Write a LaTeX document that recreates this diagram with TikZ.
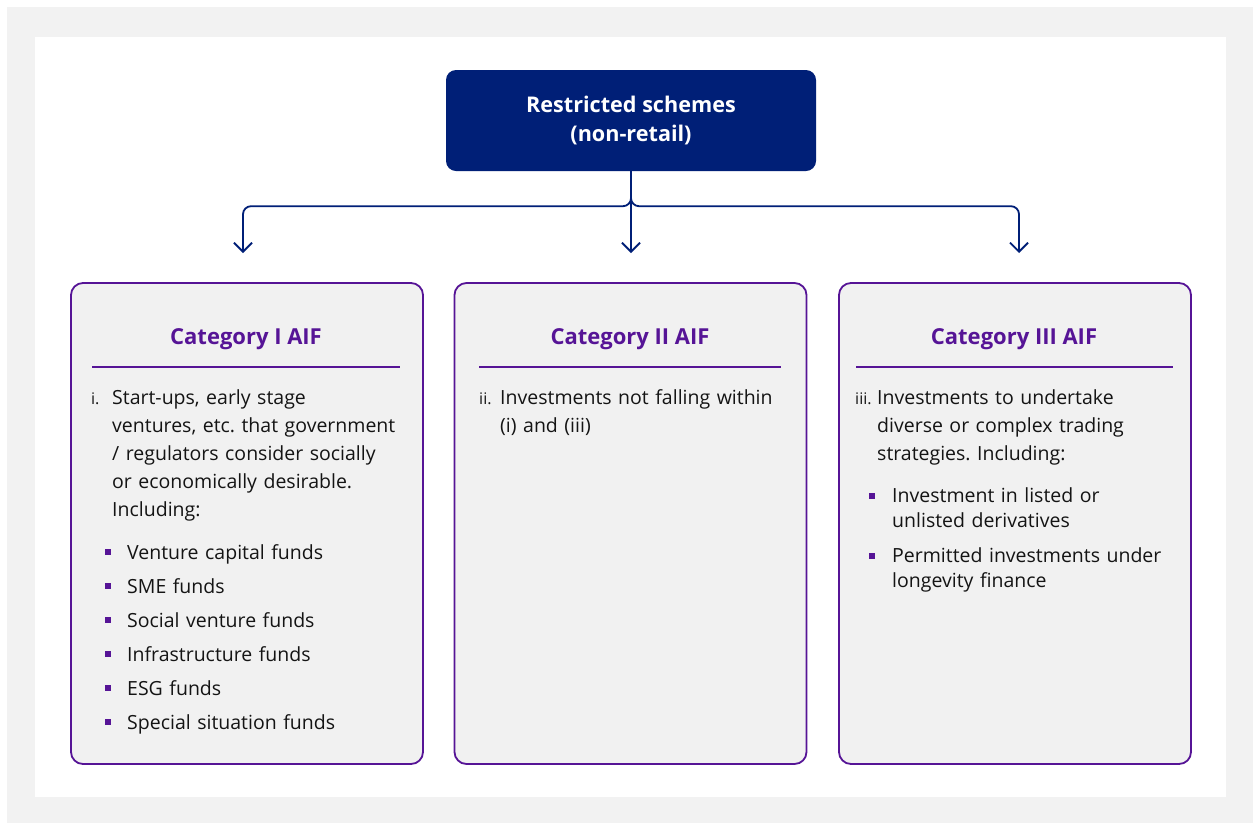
\documentclass[tikz,border=0pt]{standalone}
\usepackage{fontspec}
\setmainfont{Open Sans}
\frenchspacing
\usetikzlibrary{arrows.meta}

\definecolor{navy}{RGB}{0,31,119}
\definecolor{aifpurple}{RGB}{86,20,150}
\definecolor{panelgrey}{RGB}{241,241,241}
\definecolor{framegrey}{RGB}{242,242,242}
\definecolor{ink}{RGB}{20,20,20}

\tikzset{
  headbox/.style={fill=navy, rounded corners=10pt, minimum width=370pt, minimum height=101pt,
    text=white, font=\fontsize{21.6}{29}\selectfont\bfseries, align=center},
  catbox/.style={draw=aifpurple, line width=1.8pt, fill=panelgrey, rounded corners=12pt,
    minimum width=352pt, minimum height=481pt, inner sep=0pt},
  cattitle/.style={text=aifpurple, font=\fontsize{22}{26}\selectfont\bfseries, anchor=base, inner sep=0pt},
  catrule/.style={draw=aifpurple, line width=1.8pt},
  linkarrow/.style={draw=navy, line width=1.8pt, rounded corners=8pt,
    -{Straight Barb[length=9pt,width=18pt,line width=1.8pt]}},
  bodytext/.style={text=ink, font=\fontsize{19.5}{28}\selectfont, anchor=base west, align=left,
    inner sep=0pt, text width=300pt},
  itemtext/.style={text=ink, font=\fontsize{19.5}{25}\selectfont, anchor=base west, align=left,
    inner sep=0pt, text width=300pt},
  numlabel/.style={text=ink, font=\fontsize{16}{18}\selectfont, anchor=base west, inner sep=0pt},
  bulletsq/.style={fill=aifpurple, minimum size=6pt, inner sep=0pt},
}

\begin{document}
\begin{tikzpicture}[x=1pt, y=-1pt]
    % 背景与白色面板
    \useasboundingbox (0,0) rectangle (1253,823);
    \fill[framegrey] (7,7) rectangle (1253,823);
    \fill[white] (35,37) rectangle (1226,797);

    % 顶部方框
    \node[headbox] (top) at (631,120.5) {Restricted schemes\\(non-retail)};

    % 三个类别方框
    \node[catbox] (cat1) at (247,523.5) {};
    \node[catbox] (cat2) at (630.5,523.5) {};
    \node[catbox] (cat3) at (1015,523.5) {};

    % 箭头终点
    \coordinate (end1) at (243,253);
    \coordinate (end2) at (631,253);
    \coordinate (end3) at (1019,253);

    % 连接线
    \draw[linkarrow] (top.south) -- ++(0,35) -| (end1);
    \draw[linkarrow] (top.south) -- (end2);
    \draw[linkarrow] (top.south) -- ++(0,35) -| (end3);

    % 标题与分隔线
    \node[cattitle] (title1) at (246,344) {Category I AIF};
    \node[cattitle] (title2) at (630,344) {Category II AIF};
    \node[cattitle] (title3) at (1014,344) {Category III AIF};
    \draw[catrule] (92,367) -- (400,367);
    \draw[catrule] (479,367) -- (781,367);
    \draw[catrule] (856,367) -- (1173,367);

    % 类别 I 的文字
    \node[numlabel] (num1) at (91,404) {i.};
    \node[bodytext] (text1) at (112,404) {Start-ups, early stage\\ventures, etc. that government\\/ regulators consider socially\\or economically desirable.\\Including:};
    \node[bulletsq] (dot11) at (108,552) {};
    \node[bulletsq] (dot12) at (108,586) {};
    \node[bulletsq] (dot13) at (108,620) {};
    \node[bulletsq] (dot14) at (108,654) {};
    \node[bulletsq] (dot15) at (108,688) {};
    \node[bulletsq] (dot16) at (108,722) {};
    \node[itemtext] (item11) at (127,559) {Venture capital funds};
    \node[itemtext] (item12) at (127,593) {SME funds};
    \node[itemtext] (item13) at (127,627) {Social venture funds};
    \node[itemtext] (item14) at (127,661) {Infrastructure funds};
    \node[itemtext] (item15) at (127,695) {ESG funds};
    \node[itemtext] (item16) at (127,729) {Special situation funds};

    % 类别 II 的文字
    \node[numlabel] (num2) at (479,404) {ii.};
    \node[bodytext] (text2) at (500,404) {Investments not falling within\\(i) and (iii)};

    % 类别 III 的文字
    \node[numlabel] (num3) at (855,404) {iii.};
    \node[bodytext] (text3) at (877,404) {Investments to undertake\\diverse or complex trading\\strategies. Including:};
    \node[bulletsq] (dot31) at (872,496) {};
    \node[bulletsq] (dot32) at (872,556) {};
    \node[itemtext] (item31) at (892,502) {Investment in listed or\\unlisted derivatives};
    \node[itemtext] (item32) at (892,562) {Permitted investments under\\longevity finance};

\end{tikzpicture}
\end{document}
